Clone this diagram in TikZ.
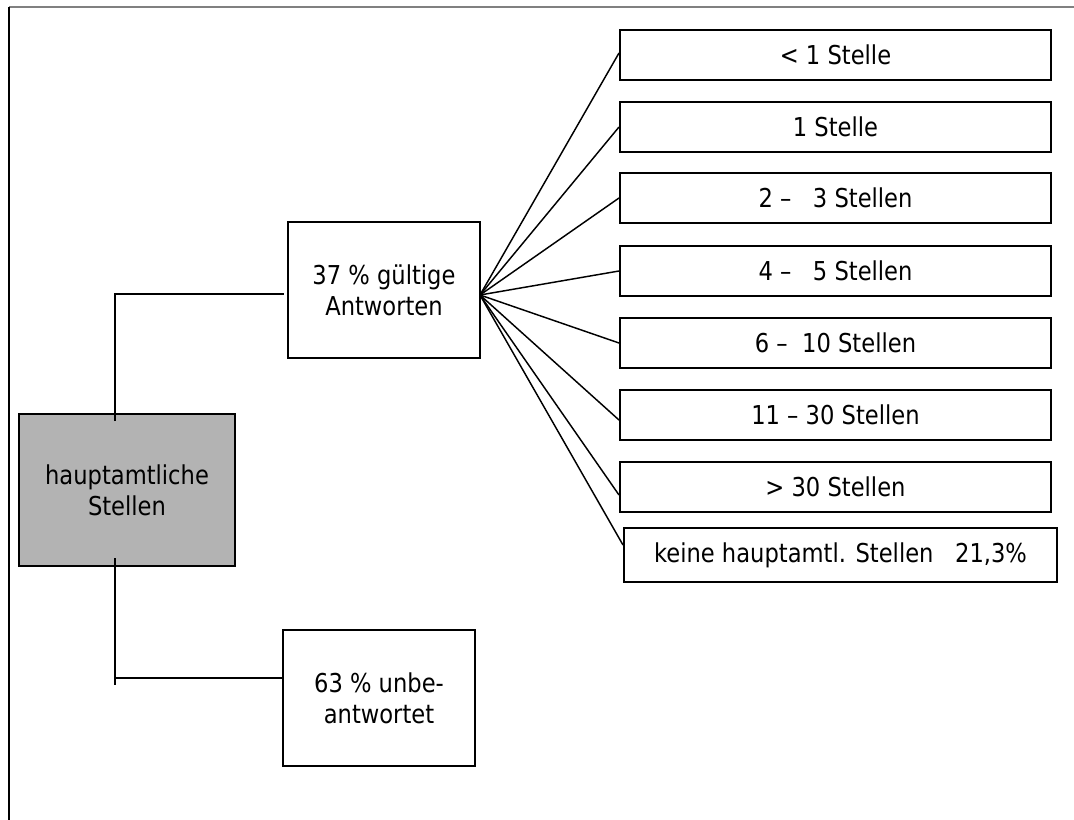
\documentclass[tikz,border=0pt]{standalone}
\usepackage{fontspec}
\setmainfont{DejaVu Sans}[FakeStretch=0.87]
\usetikzlibrary{calc}
\begin{document}
\begin{tikzpicture}[x=0.75pt,y=-0.75pt,
  box/.style={draw=black, line width=1.5pt, fill=white, inner sep=0pt, align=center,
    font=\fontsize{19.5pt}{23.25pt}\selectfont},
  rbox/.style={box, minimum width={431*0.75pt}, minimum height={50*0.75pt}},
  conn/.style={draw=black, line width=1.1pt}]
\useasboundingbox (0,0) rectangle (1074,820);
\draw[line width=1.1pt, gray] (9,7) -- (1074,7);
\draw[line width=1.1pt, black] (9,7) -- (9,820);

\node[box, fill={rgb,255:red,179;green,179;blue,179}, minimum width={216*0.75pt}, minimum height={152*0.75pt}] (main) at (127,490) {hauptamtliche\\Stellen};
\node[box, minimum width={192*0.75pt}, minimum height={136*0.75pt}] (ans) at (384,290) {37 \% gültige\\Antworten};
\node[box, minimum width={192*0.75pt}, minimum height={136*0.75pt}] (unb) at (379,698) {63 \% unbe-\\antwortet};

\node[rbox] (b1) at (835.5,55) {< 1 Stelle};
\node[rbox] (b2) at (835.5,127) {1 Stelle};
\node[rbox] (b3) at (835.5,198) {2 –\ \ \ 3 Stellen};
\node[rbox] (b4) at (835.5,271) {4 –\ \ \ 5 Stellen};
\node[rbox] (b5) at (835.5,343) {6 –\ \ 10 Stellen};
\node[rbox] (b6) at (835.5,415) {11 – 30 Stellen};
\node[rbox] (b7) at (835.5,487) {> 30 Stellen};
\node[box, minimum width={433*0.75pt}, minimum height={54*0.75pt}] (b8) at (840.5,555) {keine hauptamtl. Stellen\ \ \ 21,3\%};

\coordinate (fan) at (480,295);
\draw[conn] (fan) -- ($(b1.west)+(0,-2)$);
\draw[conn] (fan) -- (b2.west);
\draw[conn] (fan) -- (b3.west);
\draw[conn] (fan) -- (b4.west);
\draw[conn] (fan) -- (b5.west);
\draw[conn] (fan) -- ($(b6.west)+(0,5)$);
\draw[conn] (fan) -- ($(b7.west)+(0,8)$);
\draw[conn] (fan) -- ($(b8.west)+(0,-10)$);

\coordinate (mt) at (115,421);
\draw[conn] (mt) |- ($(ans.west)+(-3,4)$);
\coordinate (mb) at (115,558);
\coordinate (mbe) at (115,685);
\coordinate (mj) at (115,678);
\draw[conn] (mb) -- (mbe);
\draw[conn] (mj) -- (unb.west |- mj);
\end{tikzpicture}
\end{document}
